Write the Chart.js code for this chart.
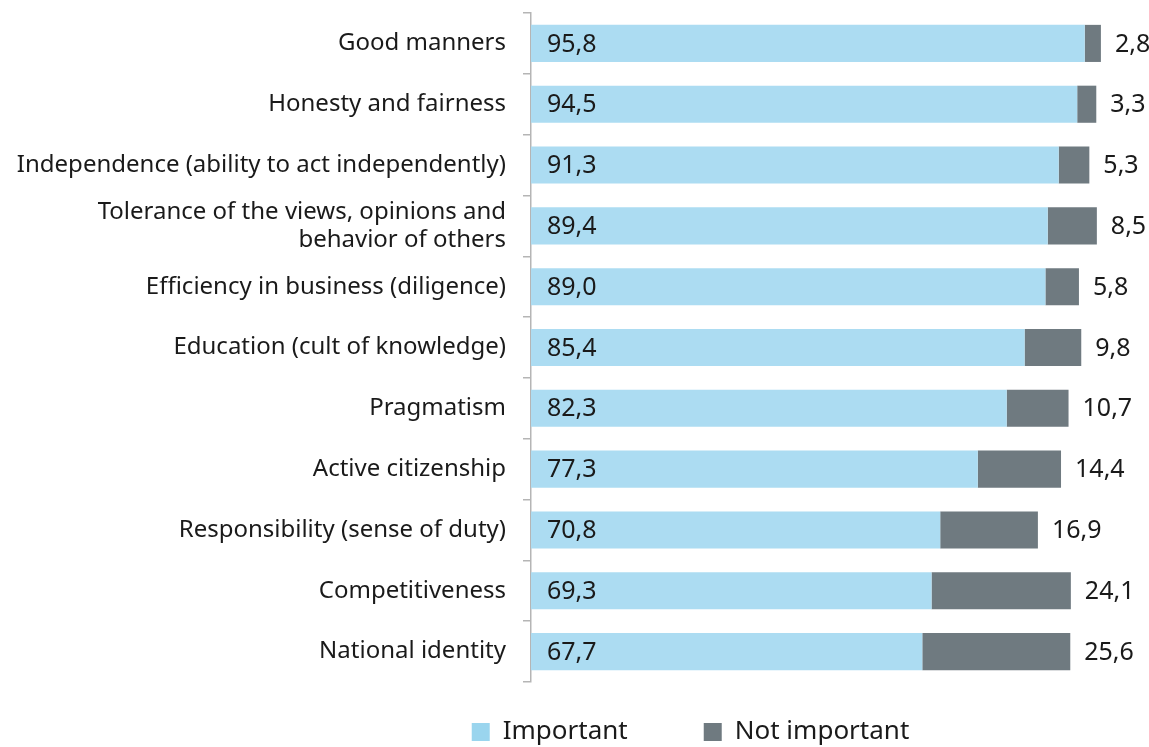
<!DOCTYPE html>
<html>
<head>
<meta charset="utf-8">
<script src="https://cdn.jsdelivr.net/npm/chart.js@4"></script>
<style>
  html, body { margin: 0; padding: 0; background: #fff; }
  #wrap { width: 1149px; height: 747px; }
</style>
</head>
<body>
<div id="wrap"><canvas id="grafica"></canvas></div>
<script>
// categorías y valores (%)
const categorias = [
  'Good manners',
  'Honesty and fairness',
  'Independence (ability to act independently)',
  ['Tolerance of the views, opinions and', 'behavior of others'],
  'Efficiency in business (diligence)',
  'Education (cult of knowledge)',
  'Pragmatism',
  'Active citizenship',
  'Responsibility (sense of duty)',
  'Competitiveness',
  'National identity'
];
const importante = [95.8, 94.5, 91.3, 89.4, 89.0, 85.4, 82.3, 77.3, 70.8, 69.3, 67.7];
const noImportante = [2.8, 3.3, 5.3, 8.5, 5.8, 9.8, 10.7, 14.4, 16.9, 24.1, 25.6];

const fuente = "'Noto Sans', sans-serif";
const colorTexto = '#1a1a1a';

// etiquetas de valores: dentro de la barra azul y a la derecha de la gris
const etiquetas = {
  id: 'etiquetas',
  afterLayout(chart) {
    // la leyenda se centra más a la derecha que el lienzo
    chart.legend.left = 272;
  },
  afterDatasetsDraw(chart) {
    const ctx = chart.ctx;
    ctx.save();
    ctx.font = '25px ' + fuente;
    ctx.fillStyle = colorTexto;
    ctx.textBaseline = 'middle';
    ctx.textAlign = 'left';
    const meta0 = chart.getDatasetMeta(0);
    const meta1 = chart.getDatasetMeta(1);
    meta0.data.forEach((bar, i) => {
      ctx.fillText(importante[i].toFixed(1).replace('.', ','), bar.base + 16, bar.y + 1);
      const bar2 = meta1.data[i];
      ctx.fillText(noImportante[i].toFixed(1).replace('.', ','), bar2.x + 14, bar2.y + 1);
    });
    ctx.restore();
  }
};

const ctx = document.getElementById('grafica').getContext('2d');
const myChart = new Chart(ctx, {
  type: 'bar',
  data: {
    labels: categorias,
    datasets: [
      { label: 'Important', data: importante, backgroundColor: '#acdcf2', barPercentage: 0.61, categoryPercentage: 1 },
      { label: 'Not important', data: noImportante, backgroundColor: '#6f7a80', barPercentage: 0.61, categoryPercentage: 1 }
    ]
  },
  options: {
    indexAxis: 'y',
    responsive: true,
    maintainAspectRatio: false,
    animation: false,
    layout: { padding: { top: 13, right: 40, left: 0, bottom: 0 } },
    scales: {
      x: { stacked: true, display: false, min: 0, max: 100 },
      y: {
        stacked: true,
        afterFit: (scale) => {
          scale.width = 531;
          scale.paddingTop = 0;
          scale.paddingBottom = 0;
        },
        grid: { offset: true, drawOnChartArea: false, tickLength: 8, color: '#b5b5b5', lineWidth: 1.5 },
        border: { color: '#b5b5b5', width: 1.5 },
        ticks: { padding: 17, color: colorTexto, font: { family: fuente, size: 24, lineHeight: 1.17 } }
      }
    },
    plugins: {
      tooltip: { enabled: false },
      legend: {
        position: 'bottom',
        maxHeight: 65,
        labels: {
          padding: 37,
          boxWidth: 18,
          boxHeight: 18,
          color: colorTexto,
          font: { family: fuente, size: 26 },
          generateLabels: (chart) => chart.data.datasets.map((ds, i) => ({
            text: i === 0 ? ds.label + '\u2002\u2003' : ds.label,
            fillStyle: i === 0 ? '#9ad5ee' : ds.backgroundColor,
            strokeStyle: 'transparent',
            lineWidth: 0,
            fontColor: colorTexto,
            datasetIndex: i
          }))
        }
      }
    }
  },
  plugins: [etiquetas]
});
</script>
</body>
</html>
